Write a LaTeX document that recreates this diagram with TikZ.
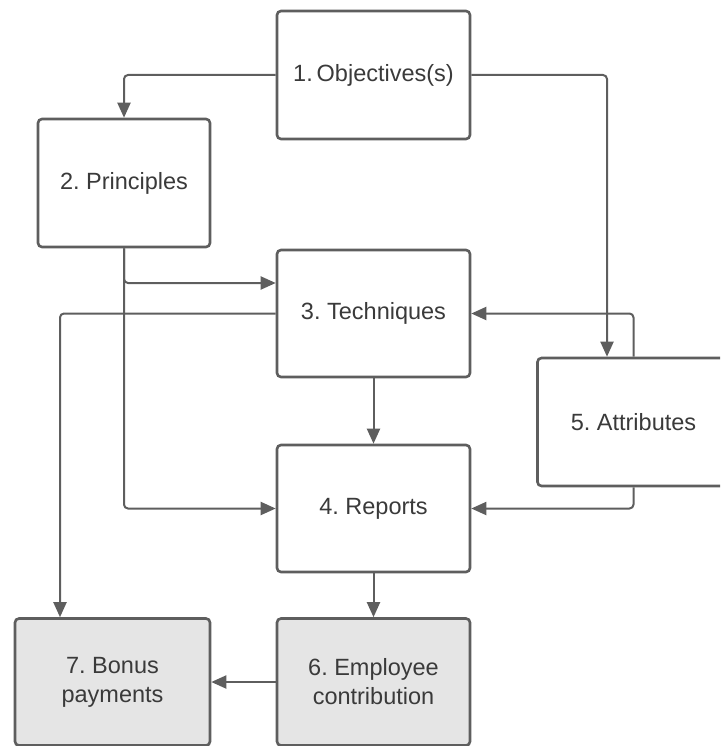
\documentclass[tikz,border=0pt]{standalone}
\usepackage{fontspec}
\setmainfont{Liberation Sans}
\usetikzlibrary{arrows.meta}
\frenchspacing
\definecolor{edgegray}{HTML}{5E5E5E}
\definecolor{textgray}{HTML}{3A3A3A}
\definecolor{boxfill}{HTML}{E5E5E5}
\tikzset{
  stage/.style={draw=edgegray, line width=2.6pt, rounded corners=4pt,
    rectangle, inner sep=0pt, minimum height=127pt, minimum width=193pt,
    text=textgray, align=center, font=\fontsize{23.5}{29}\selectfont},
  result/.style={stage, fill=boxfill},
  link/.style={draw=edgegray, line width=2pt, rounded corners=4pt,
    -{Triangle[length=15pt,width=13pt]}}
}
\begin{document}
\begin{tikzpicture}[x=1pt,y=-1pt]
  \useasboundingbox (0,0) rectangle (720,746);
  \clip (0,0) rectangle (720,746);

  % process stages
  \node[stage, minimum height=128pt] (obj) at (373.5,75) {1.\,Objectives(s)};
  \node[stage, minimum width=172pt, minimum height=128pt] (prin) at (124,183) {2. Principles};
  \node[stage] (tech) at (373.5,313.5) {3. Techniques};
  \node[stage] (rep) at (373.5,508.5) {4. Reports};
  \node[stage, minimum width=192pt, minimum height=128pt] (attr) at (633.5,422) {5. Attributes};
  \node[result] (emp) at (373.5,682) {6. Employee\\contribution};
  \node[result, minimum width=195pt] (bonus) at (112.5,682) {7. Bonus\\payments};

  % drop line from techniques to bonus payments
  \coordinate (drop) at (60,0);

  % connectors
  \draw[link] (obj.west) -| (prin.north);
  \draw[link] (obj.east) -| ([xshift=-26.5pt]attr.north);
  \draw[link] (prin.south) |- ([yshift=30.5pt]tech.west);
  \draw[link] (prin.south) |- (rep.west);
  \draw[link] (tech.west) -| (drop |- bonus.north);
  \draw[link] (tech.south) -- (rep.north);
  \draw[link] (attr.north) |- (tech.east);
  \draw[link] (attr.south) |- (rep.east);
  \draw[link] (rep.south) -- (emp.north);
  \draw[link] (emp.west) -- (bonus.east);
\end{tikzpicture}
\end{document}
